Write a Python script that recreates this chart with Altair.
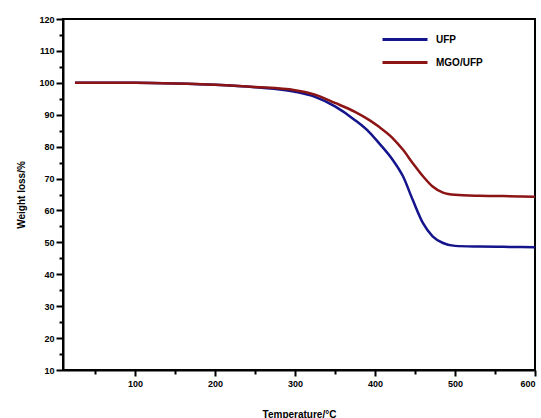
import altair as alt
import pandas as pd

temps = [25, 50, 100, 150, 200, 250, 300, 325, 350, 375, 393, 405, 422, 435,
         447, 460, 472, 485, 500, 530, 560, 600]
ufp = [100.0, 100.0, 100.0, 99.8, 99.4, 98.6, 97.2, 95.6, 92.6, 88.3, 84.5, 81.1, 75.9, 70.7,
       63.4, 56.0, 51.9, 49.8, 48.9, 48.7, 48.6, 48.5]
mgo = [100.0, 100.0, 100.0, 99.8, 99.4, 98.7, 97.7, 96.3, 93.7, 90.9, 88.3, 86.2, 82.7, 79.0,
       74.9, 70.7, 67.5, 65.6, 64.9, 64.6, 64.5, 64.3]
series = ["UFP", "MGO/UFP"]
colors = ["#14148c", "#8c1414"]

x_ticks = list(range(50, 601, 50))
y_ticks = list(range(10, 121, 5))

rows = []
for t, a, b in zip(temps, ufp, mgo):
    rows.append({"T": t, "W": a, "S": series[0]})
    rows.append({"T": t, "W": b, "S": series[1]})
df = pd.DataFrame(rows)

FONT = "Liberation Sans"

chart = alt.Chart(df).mark_line(strokeWidth=2.5, interpolate="monotone").encode(
    x=alt.X("T:Q", scale=alt.Scale(domain=[10, 600], nice=False, zero=False),
            axis=alt.Axis(title="Temperature/°C", values=x_ticks,
                          labelExpr="datum.value % 100 == 0 ? datum.label : ''",
                          tickSize={"condition": {"test": "datum.value % 100 == 0", "value": 6}, "value": 4},
                          grid=False, titlePadding=21, labelPadding=3)),
    y=alt.Y("W:Q", scale=alt.Scale(domain=[10, 120], nice=False, zero=False),
            axis=alt.Axis(title="Weight loss/%", values=y_ticks,
                          labelExpr="datum.value % 10 == 0 ? datum.label : ''",
                          tickSize={"condition": {"test": "datum.value % 10 == 0", "value": 7}, "value": 4},
                          grid=False, titlePadding=12, labelPadding=2)),
    color=alt.Color("S:N", scale=alt.Scale(domain=series, range=colors),
                    sort=series,
                    legend=alt.Legend(title=None, orient="none", legendX=318, legendY=14,
                                      symbolType="stroke", symbolSize=2025,
                                      symbolStrokeWidth=3, labelOffset=7,
                                      clipHeight=13, rowPadding=10, padding=0,
                                      labelFont=FONT, labelFontWeight="bold",
                                      labelFontSize=10, labelColor="black")),
).properties(
    width=472, height=351,
    autosize=alt.AutoSizeParams(type="none"),
    padding={"left": 63, "top": 19, "right": 6, "bottom": 48},
).configure_view(
    stroke="black", strokeWidth=2
).configure_axis(
    domainColor="black", domainWidth=2, tickColor="black", tickWidth=2,
    labelFont=FONT, labelFontWeight="bold", labelFontSize=9, labelColor="black",
    titleFont=FONT, titleFontWeight="bold", titleFontSize=10, titleColor="black",
)

chart.save("out.html", embed_options={"renderer": "svg", "actions": False})
